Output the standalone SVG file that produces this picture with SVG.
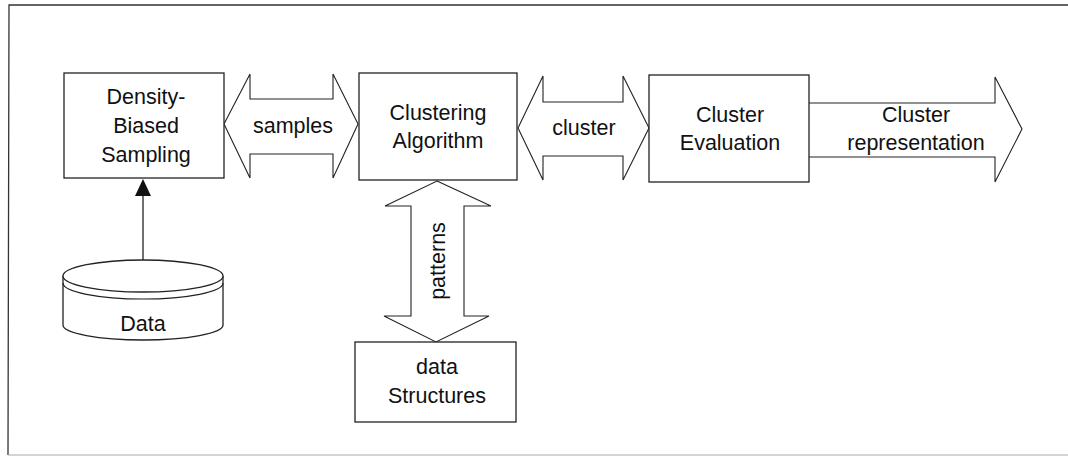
<svg xmlns="http://www.w3.org/2000/svg" width="1068" height="457" viewBox="0 0 1068 457">
<style>
.b{fill:#fff;stroke:#222;stroke-width:1.3}
.a{fill:#fff;stroke:#222;stroke-width:1.1;stroke-linejoin:miter}
.t{font-family:"Liberation Sans",Arial,sans-serif;font-size:21.5px;fill:#111;text-anchor:middle}
</style>
<rect width="1068" height="457" fill="#fff"/>
<g id="frame">
<path d="M1068,5 L9,5 L8,455" fill="none" stroke="#333" stroke-width="1.3"/>
<path d="M8,455 L1068,455" fill="none" stroke="#aaa" stroke-width="1.2"/>
</g>
<g id="connectors">
<path class="a" d="M224,124 L250,74 L250,99 L333,99 L333,74 L358,124 L333,178 L333,154 L250,154 L250,178 Z"/>
<text class="t" x="293" y="133">samples</text>
<path class="a" d="M518,128 L543,76 L543,102 L623,102 L623,76 L649,128 L623,180 L623,156 L543,156 L543,180 Z"/>
<text class="t" x="584" y="135">cluster</text>
<path class="a" d="M809,103 L995,103 L995,77 L1022,129 L995,182 L995,157 L809,157"/>
<text class="t" x="916" y="122">Cluster</text>
<text class="t" x="916" y="150">representation</text>
<path class="a" d="M437,181 L491,206 L464,206 L464,316 L489,316 L436,342 L384,316 L411,316 L411,206 L385,206 Z"/>
<text class="t" transform="translate(445,261) rotate(-90)">patterns</text>
<line x1="143" y1="260" x2="143" y2="194" stroke="#222" stroke-width="1.3"/>
<polygon points="143,179 151,196 135,196" fill="#111"/>
</g>
<g id="density">
<rect class="b" x="64" y="73" width="160" height="105"/>
<text class="t" x="146" y="104">Density-</text>
<text class="t" x="146" y="133">Biased</text>
<text class="t" x="146" y="162">Sampling</text>
</g>
<g id="clustering">
<rect class="b" x="359" y="73" width="158" height="107"/>
<text class="t" x="438" y="120">Clustering</text>
<text class="t" x="438" y="148">Algorithm</text>
</g>
<g id="evaluation">
<rect class="b" x="649" y="75" width="160" height="107"/>
<text class="t" x="730" y="122">Cluster</text>
<text class="t" x="730" y="150">Evaluation</text>
</g>
<g id="structures">
<rect class="b" x="355" y="342" width="161" height="80"/>
<text class="t" x="437" y="374">data</text>
<text class="t" x="437" y="403">Structures</text>
</g>
<g id="data">
<path class="b" d="M63,276 L63,325 A80,15 0 0 0 223,325 L223,276"/>
<path d="M63,283 A80,16 0 0 0 223,283" fill="none" stroke="#222" stroke-width="1.2"/>
<ellipse class="b" cx="143" cy="276" rx="80" ry="16"/>
<text class="t" x="143" y="331">Data</text>
</g>
</svg>
